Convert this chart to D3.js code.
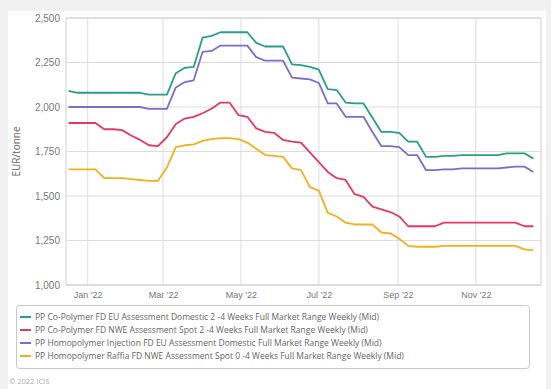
<!DOCTYPE html>
<html>
<head>
<meta charset="utf-8">
<script src="https://cdn.jsdelivr.net/npm/d3@7"></script>
<style>
  html, body { margin: 0; padding: 0; background: #f1f1f1; }
  svg { display: block; font-family: "Open Sans", "DejaVu Sans", sans-serif; }
</style>
</head>
<body>
<svg id="chart" width="551" height="389"></svg>
<script>
// Weekly assessments, first week ending 17 Dec 2021
const startDate = "2021-12-17";
const seriesNames = [
  "PP Co-Polymer FD EU Assessment Domestic 2 -4 Weeks Full Market Range Weekly (Mid)",
  "PP Co-Polymer FD NWE Assessment Spot 2 -4 Weeks Full Market Range Weekly (Mid)",
  "PP Homopolymer Injection FD EU Assessment Domestic Full Market Range Weekly (Mid)",
  "PP Homopolymer Raffia FD NWE Assessment Spot 0 -4 Weeks Full Market Range Weekly (Mid)"
];
const seriesColors = ["#2a9e86", "#e53a5f", "#7b6cd0", "#f2b01e"];

const coPolymerEU = [2090, 2080, 2080, 2080, 2080, 2080, 2080, 2080, 2080, 2070, 2070, 2070,
  2190, 2220, 2225, 2390, 2400, 2420, 2420, 2420, 2420, 2360, 2340, 2340, 2340, 2240, 2235,
  2225, 2210, 2100, 2095, 2025, 2020, 2020, 1940, 1860, 1860, 1855, 1805, 1805, 1720, 1720,
  1725, 1725, 1730, 1730, 1730, 1730, 1730, 1740, 1740, 1740, 1710];
const coPolymerNWE = [1910, 1910, 1910, 1910, 1875, 1875, 1870, 1840, 1815, 1785, 1780, 1830,
  1905, 1935, 1945, 1965, 1990, 2025, 2025, 1955, 1945, 1880, 1860, 1855, 1815, 1805, 1800,
  1745, 1690, 1635, 1600, 1590, 1510, 1495, 1440, 1425, 1410, 1385, 1330, 1330, 1330, 1330,
  1350, 1350, 1350, 1350, 1350, 1350, 1350, 1350, 1350, 1330, 1330];
const homoInjectionEU = [2000, 2000, 2000, 2000, 2000, 2000, 2000, 2000, 2000, 1990, 1990, 1990,
  2110, 2140, 2150, 2310, 2315, 2345, 2345, 2345, 2345, 2280, 2260, 2260, 2260, 2165, 2160,
  2155, 2135, 2020, 2020, 1945, 1945, 1945, 1860, 1780, 1780, 1775, 1730, 1730, 1645, 1645,
  1650, 1650, 1655, 1655, 1655, 1655, 1655, 1660, 1665, 1665, 1635];
const homoRaffiaNWE = [1650, 1650, 1650, 1650, 1600, 1600, 1600, 1595, 1590, 1585, 1585, 1660,
  1775, 1785, 1790, 1810, 1820, 1825, 1825, 1820, 1800, 1765, 1730, 1725, 1720, 1655, 1645,
  1550, 1530, 1405, 1385, 1350, 1340, 1340, 1340, 1295, 1290, 1260, 1220, 1215, 1215, 1215,
  1220, 1220, 1220, 1220, 1220, 1220, 1220, 1220, 1220, 1200, 1195];

const yTicks = [1000, 1250, 1500, 1750, 2000, 2250, 2500];
const xTickDates = ["2022-01-01", "2022-03-01", "2022-05-01", "2022-07-01", "2022-09-01", "2022-11-01"];
const yTitle = "EUR/tonne";
const copyright = "© 2022 ICIS";

const allSeries = [coPolymerEU, coPolymerNWE, homoInjectionEU, homoRaffiaNWE];
const parse = d3.utcParse("%Y-%m-%d");
const t0 = parse(startDate);
const dates = coPolymerEU.map((_, i) => d3.utcDay.offset(t0, 7 * i));

const svg = d3.select("#chart");
const W = 551, H = 389;

// white panel
svg.append("rect").attr("x", 8).attr("y", 11).attr("width", 538).attr("height", H - 11)
  .attr("fill", "#ffffff");

const plot = { left: 66, right: 541, top: 18, bottom: 285 };

const x = d3.scaleUtc()
  .domain([parse("2021-12-15"), parse("2022-12-22")])
  .range([plot.left, plot.right]);
const y = d3.scaleLinear().domain([1000, 2500]).range([plot.bottom, plot.top]);

// grid
const grid = svg.append("g");
grid.selectAll("line.h").data(yTicks).join("line")
  .attr("x1", plot.left).attr("x2", plot.right)
  .attr("y1", d => y(d)).attr("y2", d => y(d))
  .attr("stroke", "#dcdcdc").attr("stroke-width", 1);
grid.selectAll("line.v").data(xTickDates.map(parse)).join("line")
  .attr("x1", d => x(d)).attr("x2", d => x(d))
  .attr("y1", plot.top).attr("y2", plot.bottom)
  .attr("stroke", "#dcdcdc").attr("stroke-width", 1);
svg.append("rect")
  .attr("x", plot.left).attr("y", plot.top)
  .attr("width", plot.right - plot.left).attr("height", plot.bottom - plot.top)
  .attr("fill", "none").attr("stroke", "#cfcfcf");

// axes
const yAxis = d3.axisLeft(y).tickValues(yTicks).tickFormat(d3.format(",")).tickSize(0).tickPadding(6);
const gy = svg.append("g").attr("transform", `translate(${plot.left},0)`).call(yAxis);
gy.select(".domain").remove();
gy.selectAll("text").attr("fill", "#777").attr("font-size", 10);

const xAxis = d3.axisBottom(x).tickValues(xTickDates.map(parse))
  .tickFormat(d3.utcFormat("%b '%y")).tickSize(0).tickPadding(7);
const gx = svg.append("g").attr("transform", `translate(0,${plot.bottom})`).call(xAxis);
gx.select(".domain").remove();
gx.selectAll("text").attr("fill", "#777").attr("font-size", 9);

svg.append("text")
  .attr("transform", `translate(20,${(plot.top + plot.bottom) / 2}) rotate(-90)`)
  .attr("text-anchor", "middle").attr("font-size", 10).attr("fill", "#666")
  .text(yTitle);

// lines
const line = d3.line().x((d, i) => x(dates[i])).y(d => y(d));
svg.append("g").selectAll("path").data(allSeries).join("path")
  .attr("d", d => line(d))
  .attr("fill", "none")
  .attr("stroke", (d, i) => seriesColors[i])
  .attr("stroke-width", 1.8)
  .attr("stroke-linejoin", "round");

// legend
const lg = svg.append("g");
lg.append("rect").attr("x", 16.5).attr("y", 305.5).attr("width", 513).attr("height", 63)
  .attr("rx", 3).attr("fill", "#fff").attr("stroke", "#c8c8c8");
const items = lg.selectAll("g.item").data(seriesNames).join("g")
  .attr("transform", (d, i) => `translate(0,${317 + i * 13})`);
items.append("line").attr("x1", 20).attr("x2", 31).attr("y1", 0).attr("y2", 0)
  .attr("stroke", (d, i) => seriesColors[i]).attr("stroke-width", 2);
items.append("text").attr("x", 35).attr("y", 3).attr("font-size", 8.5).attr("fill", "#666")
  .text(d => d);

svg.append("text").attr("x", 9).attr("y", 384).attr("font-size", 7.5).attr("fill", "#aaa")
  .text(copyright);
</script>
</body>
</html>
